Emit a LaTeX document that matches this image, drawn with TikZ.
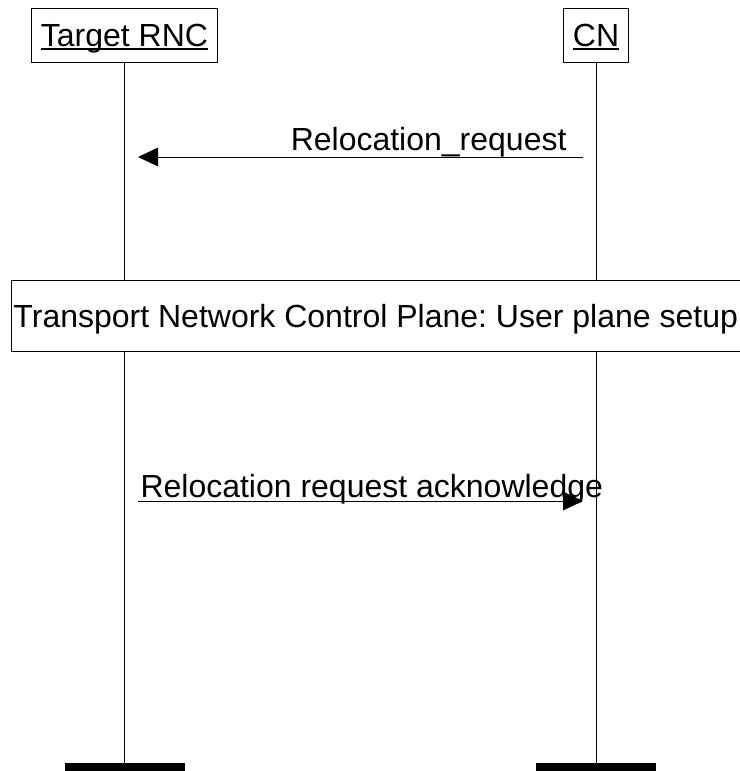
\documentclass[tikz,border=0pt]{standalone}
\usepackage{fontspec}
\setmainfont{Liberation Sans}
\usetikzlibrary{arrows.meta}
\frenchspacing
\newcommand\ulbl[1]{\setbox0\hbox{#1}\rlap{\rule[-3pt]{\wd0}{1.5pt}}\box0}

\begin{document}
\begin{tikzpicture}[x=0.75pt, y=-0.75pt, line width=0.75pt,
    font=\fontsize{24}{28}\selectfont,
    entity/.style={draw, anchor=base, inner xsep=6.75pt, inner ysep=0pt, text height=28.5pt, text depth=12pt},
    endbar/.style={fill=black, minimum width=90pt, minimum height=6pt, inner sep=0pt},
    msg/.style={-{Triangle[length=15pt, width=14pt]}},
    lbl/.style={inner sep=0pt}]
  \useasboundingbox (0,0) rectangle (739,771);
  \node (trnc) [entity] at (124.5,46) {\ulbl{Target RNC}};
  \node (cn) [entity] at (596,46) {\ulbl{CN}};
  \node (trnc-bar) [endbar] at (124.5,767) {};
  \node (cn-bar) [endbar] at (596,767) {};
  \draw (trnc) -- (trnc-bar);
  \draw (cn) -- (cn-bar);
  \node (tnc) [draw, fill=white, anchor=base west, inner xsep=1.5pt, inner ysep=0pt,
    text height=35.25pt, text depth=18pt]
    at (11,327) {\makebox[555pt][l]{Transport Network Control Plane: User plane setup}};
  \coordinate (req-from) at (583,157);
  \coordinate (req-to) at (138,157);
  \draw[msg] (req-from) -- (req-to);
  \node (req) [lbl, anchor=base east] at (567,150) {Relocation\_request};
  \coordinate (ack-from) at (138,501);
  \coordinate (ack-to) at (583,501);
  \draw[msg] (ack-from) -- (ack-to);
  \node (ack) [lbl, anchor=base west] at (140,497) {Relocation request acknowledge};
\end{tikzpicture}
\end{document}
